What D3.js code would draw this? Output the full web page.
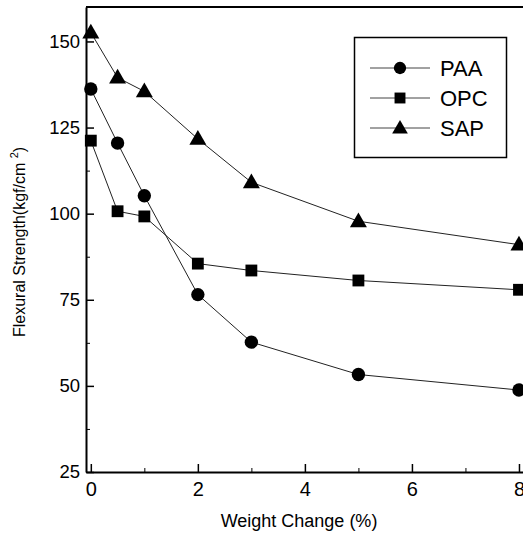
<!DOCTYPE html>
<html><head><meta charset="utf-8">
<script src="https://cdn.jsdelivr.net/npm/d3@7"></script>
<style>
html,body{margin:0;padding:0;background:#fff;}
svg{display:block;font-family:"Liberation Sans",Arial,sans-serif;}
</style></head>
<body>
<svg id="c" width="523" height="533"></svg>
<script>
const xValues = [0, 0.5, 1, 2, 3, 5, 8];
const paa = [136.2, 120.5, 105.2, 76.5, 62.7, 53.3, 48.8];
const opc = [121.2, 100.7, 99.2, 85.5, 83.5, 80.6, 77.9];
const sap = [152.6, 139.5, 135.5, 121.7, 109.1, 97.8, 91.0];
const seriesNames = ["PAA", "OPC", "SAP"];
const xTicks = [0, 2, 4, 6, 8];
const xMinor = [1, 3, 5, 7];
const yTicks = [25, 50, 75, 100, 125, 150];
const yMinor = [37.5, 62.5, 87.5, 112.5, 137.5];

const svg = d3.select("#c");
const x = d3.scaleLinear().domain([-0.09, 8.15]).range([86, 527]);
const y = d3.scaleLinear().domain([25, 160]).range([472, 7]);

const series = [
  {name: seriesNames[0], vals: paa, sym: d3.symbolCircle, size: 140},
  {name: seriesNames[1], vals: opc, sym: d3.symbolSquare, size: 140},
  {name: seriesNames[2], vals: sap, sym: d3.symbolTriangle, size: 125}
];

const g = svg.append("g");
g.append("line").attr("x1", x.range()[0]).attr("x2", 523).attr("y1", 7).attr("y2", 7)
  .attr("stroke", "#000").attr("stroke-width", 2);

const yAxis = d3.axisLeft(y).tickValues(yTicks).tickSize(-8).tickPadding(6).tickSizeOuter(0);
const ya = g.append("g").attr("transform", "translate(86,0)").call(yAxis);
ya.select(".domain").attr("stroke-width", 2);
ya.selectAll(".tick line").attr("stroke-width", 1.5);
ya.selectAll("text").attr("font-size", "18.5px").attr("font-family", "Liberation Sans, Arial, sans-serif").attr("fill", "#000");
const yAxisMinor = d3.axisLeft(y).tickValues(yMinor).tickSize(-4).tickFormat("").tickSizeOuter(0);
const ym = g.append("g").attr("transform", "translate(86,0)").call(yAxisMinor);
ym.select(".domain").remove();

const xAxis = d3.axisBottom(x).tickValues(xTicks).tickSize(-8).tickPadding(10).tickSizeOuter(0);
const xa = g.append("g").attr("transform", "translate(0,472)").call(xAxis);
xa.select(".domain").attr("stroke-width", 2);
xa.selectAll(".tick line").attr("stroke-width", 1.5);
xa.selectAll("text").attr("font-size", "20px").attr("font-family", "Liberation Sans, Arial, sans-serif").attr("fill", "#000");
const xAxisMinor = d3.axisBottom(x).tickValues(xMinor).tickSize(-4).tickFormat("").tickSizeOuter(0);
const xm = g.append("g").attr("transform", "translate(0,472)").call(xAxisMinor);
xm.select(".domain").remove();

const line = d3.line().x((d, i) => x(xValues[i])).y(d => y(d));
series.forEach(s => {
  g.append("path").datum(s.vals).attr("d", line).attr("fill", "none")
    .attr("stroke", "#222").attr("stroke-width", 1);
  g.selectAll(null).data(s.vals).enter().append("path")
    .attr("d", d3.symbol().type(s.sym).size(s.size))
    .attr("transform", (d, i) => `translate(${x(xValues[i])},${y(d) + (s.sym === d3.symbolTriangle ? 1 : 0)})`)
    .attr("fill", "#000");
});

const lg = g.append("g");
lg.append("rect").attr("x", 354.5).attr("y", 37.5).attr("width", 152).attr("height", 120)
  .attr("fill", "#fff").attr("stroke", "#000").attr("stroke-width", 1.5);
const legY = [68, 98, 128];
series.forEach((s, i) => {
  lg.append("line").attr("x1", 370).attr("x2", 430).attr("y1", legY[i]).attr("y2", legY[i])
    .attr("stroke", "#444").attr("stroke-width", 1);
  lg.append("path").attr("d", d3.symbol().type(s.sym).size(s.size * 0.85))
    .attr("transform", `translate(400,${legY[i] + (s.sym === d3.symbolTriangle ? 1 : 0)})`).attr("fill", "#000");
  lg.append("text").attr("x", 440).attr("y", legY[i] + 8).attr("font-size", "22px").attr("fill", "#000")
    .text(s.name);
});

svg.append("text").attr("x", 299).attr("y", 527).attr("text-anchor", "middle")
  .attr("font-size", "18px").attr("fill", "#000").text("Weight Change (%)");
const yt = svg.append("text").attr("transform", "translate(25,337) rotate(-90)")
  .attr("font-size", "16px").attr("fill", "#000");
yt.append("tspan").text("Flexural Strength(kgf/cm ");
yt.append("tspan").attr("font-size", "11px").attr("dy", -7).text("2");
yt.append("tspan").attr("dy", 7).text(")");
</script>
</body></html>
